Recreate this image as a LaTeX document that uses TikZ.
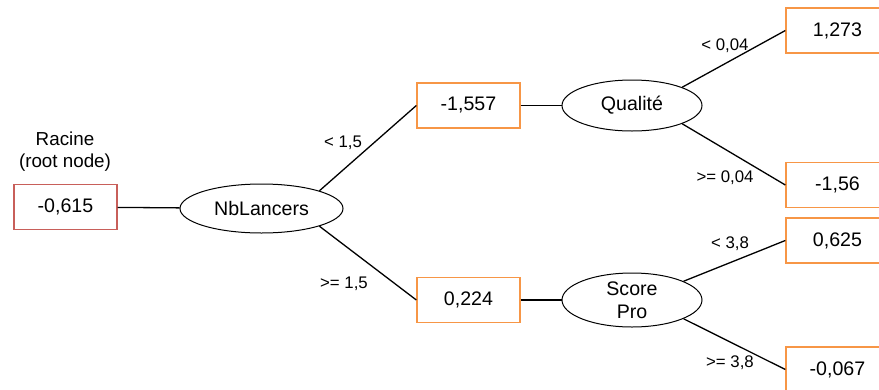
\documentclass[tikz,border=0pt]{standalone}
\usepackage{fontspec}
\setmainfont{Liberation Sans}
\usetikzlibrary{shapes.geometric}
\definecolor{leaforange}{RGB}{247,150,70}
\definecolor{rootred}{RGB}{200,95,90}

\begin{document}
\begin{tikzpicture}[x=1pt, y=-1pt,
    valbox/.style={draw=leaforange, line width=1.3pt, minimum width=103pt,
        minimum height=45pt, inner sep=0pt, font=\fontsize{19.6}{22}\selectfont},
    rootbox/.style={valbox, draw=rootred},
    split/.style={draw, ellipse, line width=1pt, inner sep=0pt, align=center,
        font=\fontsize{19.6}{23}\selectfont},
    cond/.style={inner sep=0pt, font=\fontsize{16.8}{19}\selectfont},
    edge/.style={line width=1.3pt}]
    % Frame (leaves on the right are cut by the border)
    \clip (0,0) rectangle (879,389);

    % Root node and its caption
    \node[rootbox] (R) at (65.5,207) {-0,615};
    \node[align=center, inner sep=0pt, font=\fontsize{18.8}{22}\selectfont] (Rcap) at (65,151.2) {Racine\\(root node)};

    % First split
    \node[split, minimum width=163pt, minimum height=49pt] (Nb) at (261.5,208.5) {NbLancers};
    \node[valbox] (A) at (468.5,105.5) {-1,557};
    \node[valbox] (B) at (468.5,300) {0,224};

    % Second splits
    \node[split, minimum width=140pt, minimum height=51pt] (Q) at (632,105.5) {Qualité};
    \node[split, minimum width=140pt, minimum height=54pt] (S) at (632,300) {Score\\Pro};

    % Leaves
    \node[valbox] (A1) at (837.5,30.5) {1,273};
    \node[valbox] (A2) at (837.5,185) {-1,56};
    \node[valbox] (B1) at (837.5,240.5) {0,625};
    \node[valbox] (B2) at (837.5,369.5) {-0,067};

    % Connectors
    \draw[edge] (R) -- (Nb);
    \draw[edge] (Nb.17) -- (A.west);
    \draw[edge] (Nb.-17) -- (B.west);
    \draw[edge] (A) -- (Q);
    \draw[edge] (B) -- (S);
    \draw[edge] (Q.20) -- (A1.west);
    \draw[edge] (Q.-20) -- (A2.west);
    \draw[edge] (S.20) -- (B1.west);
    \draw[edge] (S.-20) -- (B2.west);

    % Conditions
    \node[cond] (c1) at (343,143) {< 1,5};
    \node[cond] (c2) at (344,284) {>= 1,5};
    \node[cond] (c3) at (725,46) {< 0,04};
    \node[cond] (c4) at (725,178) {>= 0,04};
    \node[cond] (c5) at (730,244) {< 3,8};
    \node[cond] (c6) at (730,363) {>= 3,8};
\end{tikzpicture}
\end{document}
